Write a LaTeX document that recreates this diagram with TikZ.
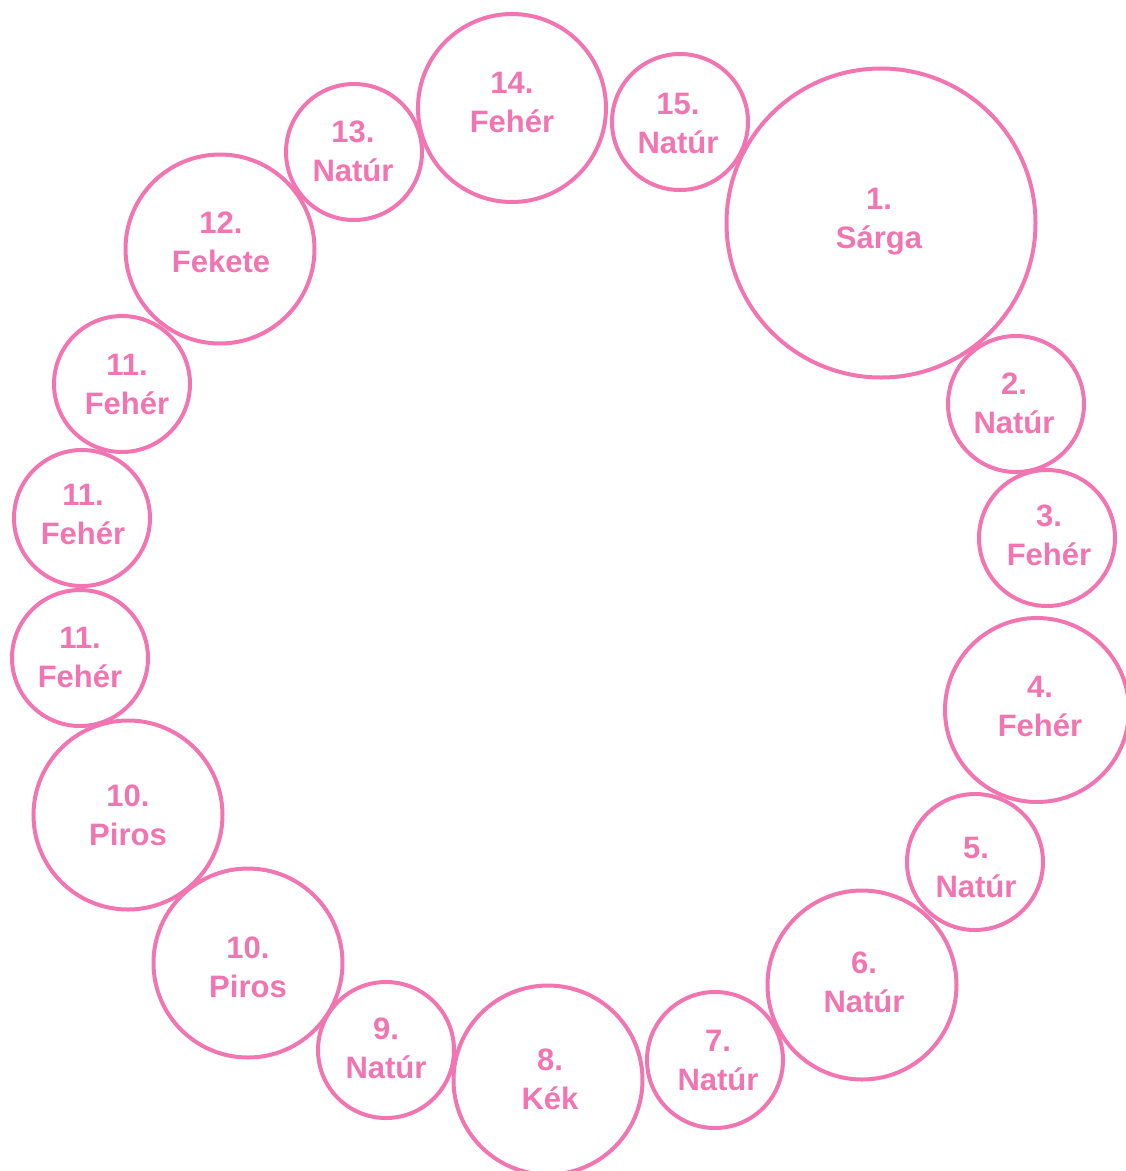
\documentclass[tikz,border=0pt]{standalone}
\usepackage{fontspec}
\setmainfont{Liberation Sans}
\definecolor{pinkline}{HTML}{F075B0}
\begin{document}
\begin{tikzpicture}[x=1pt,y=-1pt,
  ring/.style={circle, draw=pinkline, line width=4pt, inner sep=0pt},
  small/.style={ring, minimum size=136pt},
  mid/.style={ring, minimum size=189pt},
  lbl/.style={inner sep=0pt, align=center, text=pinkline,
    font=\fontsize{31}{39}\selectfont\bfseries}]
\useasboundingbox (0,0) rectangle (1126,1171);
\node[ring, minimum size=309pt] (c1) at (881,223) {};
\node[small] (c2) at (1016,404) {};
\node[small] (c3) at (1047,538) {};
\node[ring, minimum size=184pt] (c4) at (1037,710) {};
\node[small] (c5) at (975,862) {};
\node[mid] (c6) at (862,985) {};
\node[small] (c7) at (715,1060) {};
\node[mid] (c8) at (548,1080) {};
\node[small] (c9) at (386,1050) {};
\node[mid] (c10a) at (248,963) {};
\node[mid] (c10b) at (128,815) {};
\node[small] (c11a) at (80,658) {};
\node[small] (c11b) at (82,518) {};
\node[small] (c11c) at (122,384) {};
\node[mid] (c12) at (220,249) {};
\node[small] (c13) at (354,152) {};
\node[ring, minimum size=188pt] (c14) at (512,108) {};
\node[small] (c15) at (680,122) {};
\node[lbl] (t1) at ([shift={(-2,-1)}]c1.center) {1.\\Sárga};
\node[lbl] (t2) at ([shift={(-2,-1)}]c2.center) {2.\\Natúr};
\node[lbl] (t3) at ([shift={(2,-3)}]c3.center) {3.\\Fehér};
\node[lbl] (t4) at ([shift={(3,-4)}]c4.center) {4.\\Fehér};
\node[lbl] (t5) at ([shift={(1,5)}]c5.center) {5.\\Natúr};
\node[lbl] (t6) at ([shift={(2,-3)}]c6.center) {6.\\Natúr};
\node[lbl] (t7) at ([shift={(3,0)}]c7.center) {7.\\Natúr};
\node[lbl] (t8) at ([shift={(2,-1)}]c8.center) {8.\\Kék};
\node[lbl] (t9) at ([shift={(0,-2)}]c9.center) {9.\\Natúr};
\node[lbl] (t10a) at ([shift={(0,4)}]c10a.center) {10.\\Piros};
\node[lbl] (t10b) at ([shift={(0,0)}]c10b.center) {10.\\Piros};
\node[lbl] (t11a) at ([shift={(0,-1)}]c11a.center) {11.\\Fehér};
\node[lbl] (t11b) at ([shift={(1,-4)}]c11b.center) {11.\\Fehér};
\node[lbl] (t11c) at ([shift={(5,0)}]c11c.center) {11.\\Fehér};
\node[lbl] (t12) at ([shift={(1,-7)}]c12.center) {12.\\Fekete};
\node[lbl] (t13) at ([shift={(-1,-1)}]c13.center) {13.\\Natúr};
\node[lbl] (t14) at ([shift={(0,-6)}]c14.center) {14.\\Fehér};
\node[lbl] (t15) at ([shift={(-2,1)}]c15.center) {15.\\Natúr};
\end{tikzpicture}
\end{document}
